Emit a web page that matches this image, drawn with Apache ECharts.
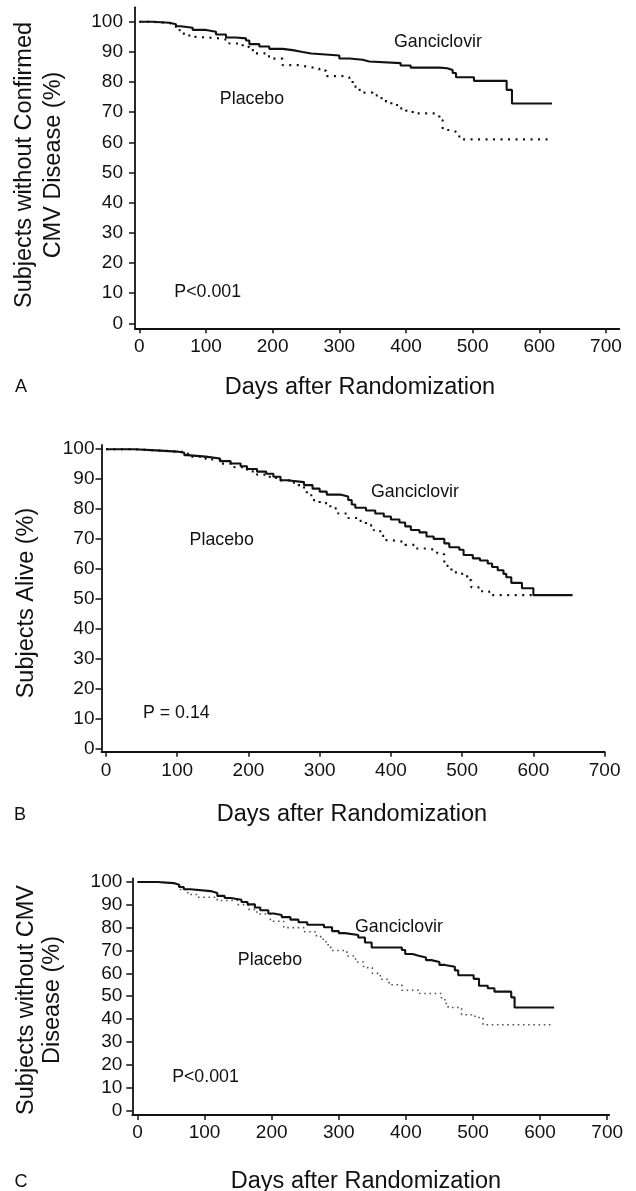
<!DOCTYPE html>
<html>
<head>
<meta charset="utf-8">
<script src="https://cdn.jsdelivr.net/npm/echarts@6/dist/echarts.min.js"></script>
<style>
html,body{margin:0;padding:0;background:#fff;}
#chart{width:636px;height:1191px;}
</style>
</head>
<body>
<div id="chart"></div>
<script>
// ---------- DATA ----------
const xTicks = [0, 100, 200, 300, 400, 500, 600, 700];
const yTicks = [0, 10, 20, 30, 40, 50, 60, 70, 80, 90, 100];

// Panel A – subjects without confirmed CMV disease
const aGanDays = [0,20,45,55,62,80,100,115,130,145,160,165,180,195,215,230,245,258,290,300,315,335,345,392,407,450,462,470,475,502,551,559,619];
const aGanVals = [100,99.7,99.2,98.5,98.0,97.3,96.7,95.8,94.8,94.5,93.8,92.6,91.8,91.0,90.6,90.0,89.5,89.0,88.8,87.8,87.4,86.8,86.3,85.5,84.8,84.6,84.0,83.0,81.6,80.4,77.4,72.9,72.9];
const aPlaDays = [0,20,45,55,60,65,75,85,120,135,155,165,175,190,200,215,240,255,270,280,305,315,320,328,335,350,360,370,378,390,400,410,445,450,455,468,475,480,615];
const aPlaVals = [100,99.6,99.0,98.2,97.2,96.1,95.0,94.5,93.9,92.8,91.7,90.6,89.5,88.5,87.8,85.6,85.0,84.5,83.8,82.0,81.6,80.5,78.5,77.4,76.5,75.6,74.7,73.5,72.4,71.3,70.5,69.6,69.1,67.4,64.1,63.5,63.0,61.0,61.0];

// Panel B – subjects alive
const bGanDays = [0,40,70,100,110,114,140,160,175,189,198,212,225,235,245,254,278,290,300,310,330,340,345,350,365,378,390,400,412,420,428,440,450,460,475,482,496,502,515,525,536,542,550,558,562,569,584,600,655];
const bGanVals = [100,99.6,99.2,98.8,98.0,97.5,96.9,96.0,95.2,94.3,93.4,92.5,91.8,90.8,89.6,89.0,88.0,86.8,85.8,84.8,84.2,83.0,81.5,80.4,79.5,78.5,77.5,76.5,75.5,74.2,73.0,72.2,70.8,70.0,68.5,67.2,66.4,64.6,63.5,62.8,61.8,60.6,59.5,58.3,57.2,55.3,53.5,51.2,51.2];
const bPlaDays = [0,40,80,115,140,161,180,198,212,230,245,258,270,278,282,290,300,315,326,340,354,365,376,385,391,400,420,433,452,465,471,475,478,485,500,508,513,525,538,598];
const bPlaVals = [100,99.5,99.0,97.5,96.6,95.2,94.0,92.6,91.5,90.4,89.6,88.8,88.0,86.0,84.6,83.0,82.0,80.2,78.5,77.0,76.0,74.5,72.9,71.0,69.6,69.0,68.0,66.8,66.2,65.2,64.8,62.0,61.0,58.8,57.5,56.2,53.8,52.5,51.2,51.2];

// Panel C – subjects without CMV disease
const cGanDays = [0,30,54,62,69,79,109,119,130,139,155,164,175,183,195,203,215,228,240,253,278,290,300,309,329,339,349,394,399,410,419,430,438,450,458,473,478,501,509,522,532,557,562,621];
const cGanVals = [100,99.5,98.8,97.8,96.8,96.0,95.2,93.9,93.0,92.2,91.2,90.2,88.8,87.6,86.2,85.5,84.6,83.5,82.4,81.3,80.2,78.5,77.6,76.8,75.7,73.5,71.3,70.2,68.5,67.7,66.9,65.8,65.0,63.7,62.9,61.3,59.2,57.6,54.6,53.5,52.0,49.5,45.1,45.1];
const cPlaDays = [0,30,55,64,75,89,119,149,165,178,198,218,248,265,273,281,288,312,325,337,350,362,375,394,419,453,458,463,483,503,515,619];
const cPlaVals = [100,99.3,98.5,96.7,94.5,93.3,91.9,90.1,88.0,86.0,82.8,80.0,78.2,76.5,74.9,72.5,70.0,67.6,65.0,62.5,60.0,57.4,55.0,52.6,51.2,49.3,46.8,45.1,41.9,40.7,37.5,37.5];

// Text
const xTitle = 'Days after Randomization';
const panelLetters = ['A', 'B', 'C'];
const yTitles = [
  ['Subjects without Confirmed', 'CMV Disease (%)'],
  ['Subjects Alive (%)'],
  ['Subjects without CMV', 'Disease (%)']
];
const seriesNames = ['Ganciclovir', 'Placebo'];
const pValues = ['P<0.001', 'P = 0.14', 'P<0.001'];

// ---------- LAYOUT ----------
const FONT = '"Liberation Sans", Arial, Helvetica, sans-serif';
const INK = '#111';
const zip = (d, v) => d.map((x, i) => [x, v[i]]);

const panels = [
  { grid: {left:135, top:7.3, width:484.3, height:321}, x:[-6.5,720], y:[-1.66,104.8], yMargin:12, xMargin:9.4,
    gan: zip(aGanDays, aGanVals), pla: zip(aPlaDays, aPlaVals),
    dot: {color:'#111', width:2.2, dash:[2,5.5]},
    xTitlePos:[360,387.3], letterPos:[21,387.3], yTitleX:[25,53.3], yTitleY:165,
    ganPos:[438,42], plaPos:[252,99.3], pPos:[207.7,291.7] },
  { grid: {left:101.5, top:445, width:503.1, height:306.7}, x:[-6.3,700], y:[-1.14,101.4], yMargin:7, xMargin:10,
    gan: zip(bGanDays, bGanVals), pla: zip(bPlaDays, bPlaVals),
    dot: {color:'#111', width:2.2, dash:[2,5.5]},
    xTitlePos:[352,815], letterPos:[20,815], yTitleX:[26.5], yTitleY:603,
    ganPos:[415,491.7], plaPos:[221.7,540], pPos:[176.3,712.7] },
  { grid: {left:132.3, top:878.3, width:476.9, height:236.7}, x:[-7.7,703], y:[-1.97,101.6], yMargin:10, xMargin:8.3,
    gan: zip(cGanDays, cGanVals), pla: zip(cPlaDays, cPlaVals),
    dot: {color:'#555', width:1.6, dash:[1.6,3.6]},
    xTitlePos:[366,1181.7], letterPos:[21,1181.7], yTitleX:[26.5,53], yTitleY:1000,
    ganPos:[399,926.7], plaPos:[270,960], pPos:[205.5,1076.7] }
];

const grids = [], xAxes = [], yAxes = [], series = [], graphics = [];
panels.forEach((p, i) => {
  grids.push(Object.assign({containLabel:false}, p.grid));
  xAxes.push({
    type:'value', gridIndex:i, min:p.x[0], max:p.x[1],
    axisLine:{show:true, onZero:false, lineStyle:{color:INK, width:1.8}},
    axisTick:{show:true, length:5, customValues:xTicks, lineStyle:{color:INK, width:1.5}},
    axisLabel:{show:true, customValues:xTicks, margin:p.xMargin, fontFamily:FONT, fontSize:19, color:INK},
    splitLine:{show:false}
  });
  yAxes.push({
    type:'value', gridIndex:i, min:p.y[0], max:p.y[1],
    axisLine:{show:true, onZero:false, lineStyle:{color:INK, width:1.8}},
    axisTick:{show:true, length:6, customValues:yTicks, lineStyle:{color:INK, width:1.5}},
    axisLabel:{show:true, customValues:yTicks, margin:p.yMargin, fontFamily:FONT, fontSize:19, color:INK},
    splitLine:{show:false}
  });
  series.push({
    name:seriesNames[1], type:'line', xAxisIndex:i, yAxisIndex:i, step:'end', data:p.pla,
    symbol:'none', silent:true, animation:false,
    lineStyle:{color:p.dot.color, width:p.dot.width, type:p.dot.dash, cap:'butt'}
  });
  series.push({
    name:seriesNames[0], type:'line', xAxisIndex:i, yAxisIndex:i, step:'end', data:p.gan,
    symbol:'none', silent:true, animation:false,
    lineStyle:{color:INK, width:2.1, type:'solid'}
  });
  const txt = (s, pos, size, rot) => ({
    type:'text', x:pos[0], y:pos[1], rotation:rot || 0,
    style:{text:s, fontFamily:FONT, fontSize:size, fill:INK, align:'center', verticalAlign:'middle'}
  });
  graphics.push(txt(xTitle, p.xTitlePos, 23.5));
  graphics.push(txt(panelLetters[i], p.letterPos, 18));
  yTitles[i].forEach((line, k) => graphics.push(txt(line, [p.yTitleX[k], p.yTitleY], 23.5, Math.PI / 2)));
  graphics.push(txt(seriesNames[0], p.ganPos, 17.8));
  graphics.push(txt(seriesNames[1], p.plaPos, 17.8));
  graphics.push(txt(pValues[i], p.pPos, 17.8));
});

const chart = echarts.init(document.getElementById('chart'), null, {renderer:'canvas', width:636, height:1191});
chart.setOption({
  backgroundColor:'#fff',
  animation:false,
  grid:grids, xAxis:xAxes, yAxis:yAxes, series:series, graphic:graphics
});
</script>
</body>
</html>
